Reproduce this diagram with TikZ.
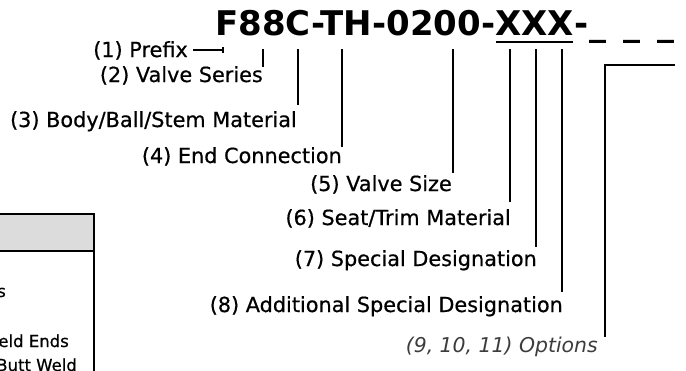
\documentclass[tikz,border=0pt]{standalone}
\usepackage{fontspec}
\setmainfont{DejaVu Sans}
\newfontfamily\lblfont[FakeBold=0.6]{DejaVu Sans}
\usetikzlibrary{calc}
\definecolor{hdrgray}{HTML}{DCDCDC}
\definecolor{optgray}{HTML}{3C3C3C}
\begin{document}
\begin{tikzpicture}[x=1pt,y=-1pt,
  lbl/.style={anchor=base east,inner sep=0pt,font=\lblfont\fontsize{20.8}{24}\selectfont},
  tbl/.style={anchor=base east,inner sep=0pt,font=\lblfont\fontsize{16.5}{19}\selectfont},
  ttl/.style={inner sep=0pt,font=\fontsize{34}{40}\selectfont\bfseries},
  conn/.style={line width=1.1pt},
  rule/.style={line width=2pt}]
\useasboundingbox (0,0) rectangle (686,370);
% table fragment
\fill[hdrgray] (-2,214) rectangle (94,251);
\draw[rule] (-2,214) -- (95,214);
\draw[rule] (-2,251) -- (94,251);
\draw[rule] (94,213) -- (94,372);
\node[tbl] (ta) at (6,297) {s};
\node[tbl] (tb) at (69,347) {eld Ends};
\node[tbl] (tc) at (77,371) {Butt Weld};
% title
\node[ttl,anchor=base west] (tA) at (215,35) {F88C-TH-0200-};
\node[ttl,anchor=base west] (tX) at (tA.base east) {XXX};
\node[ttl,anchor=base west] (tD) at (tX.base east) {-\hspace{1pt}\_\hspace{17pt}\_\hspace{17pt}\_};
\draw[line width=2pt] ($(tX.base west)+(1,7)$) -- ($(tX.base east)+(-1,7)$);
% labels
\node[lbl] (l1) at (188,57) {(1) Prefix};
\node[lbl] (l2) at (263,82) {(2) Valve Series};
\node[lbl] (l3) at (297,127) {(3) Body/Ball/Stem Material};
\node[lbl] (l4) at (342,163) {(4) End Connection};
\node[lbl] (l5) at (452,191) {(5) Valve Size};
\node[lbl] (l6) at (511,225) {(6) Seat/Trim Material};
\node[lbl] (l7) at (537,266) {(7) Special Designation};
\node[lbl] (l8) at (563,312) {(8) Additional Special Designation};
\node[lbl,font=\fontsize{20.4}{24}\selectfont\itshape,text=optgray] (l9) at (598,352) {(9, 10, 11) Options};
% connector end points
\coordinate (p0) at (193,50);
\coordinate (p1) at (223,50);
\coordinate (t2) at (263,49); \coordinate (b2) at (263,67);
\coordinate (t3) at (298,49); \coordinate (b3) at (298,105);
\coordinate (t4) at (342,49); \coordinate (b4) at (342,147);
\coordinate (t5) at (453,49); \coordinate (b5) at (453,173);
\coordinate (t6) at (510,49); \coordinate (b6) at (510,202);
\coordinate (t7) at (536,49); \coordinate (b7) at (536,247);
\coordinate (t8) at (562,49); \coordinate (b8) at (562,292);
\coordinate (t9) at (675,65); \coordinate (k9) at (605,65); \coordinate (b9) at (605,337);
% connectors
\draw[conn] (p0) -- (p1);
\draw[conn] ($(p1)+(0,-3)$) -- ($(p1)+(0,3)$);
\draw[conn] (t2) -- (b2);
\draw[conn] (t3) -- (b3);
\draw[conn] (t4) -- (b4);
\draw[conn] (t5) -- (b5);
\draw[conn] (t6) -- (b6);
\draw[conn] (t7) -- (b7);
\draw[conn] (t8) -- (b8);
\draw[conn] (t9) -- (k9) -- (b9);
\end{tikzpicture}
\end{document}
